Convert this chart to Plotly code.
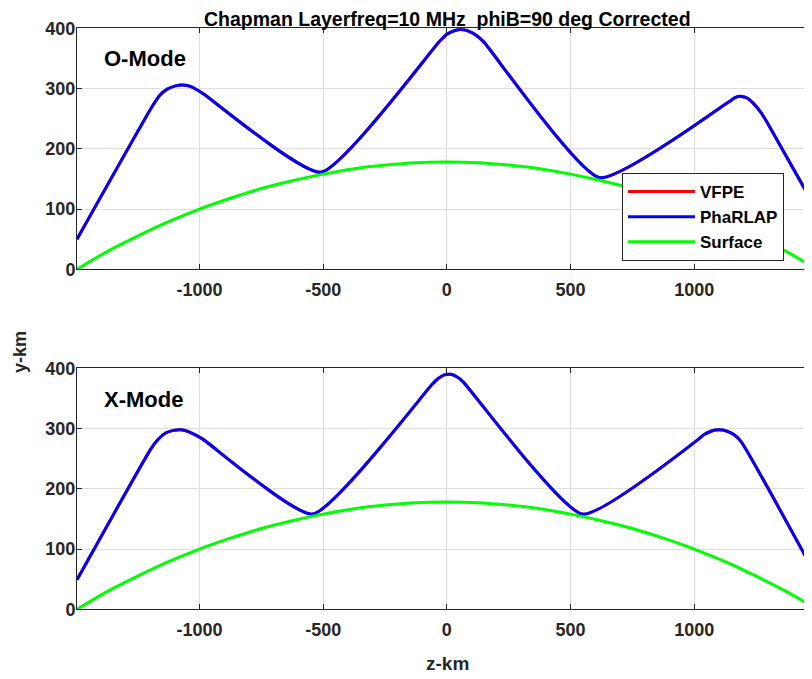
import plotly.graph_objects as go

# ---------------- data ----------------
z_surface = [-1495, -1375, -1250, -1125, -1000, -875, -750, -625, -500, -375, -250, -125, 0,
             125, 250, 375, 500, 625, 750, 875, 1000, 1125, 1250, 1375, 1495]
y_surface = [0, 29, 55, 79, 100, 118, 134, 147, 158, 167, 173, 177, 178,
             177, 173, 167, 158, 147, 134, 118, 100, 79, 55, 29, 0]

z_omode = [-1495, -1190, -1160, -1130, -1100, -1070, -1040, -1010, -980, -509,
           -30, 0, 30, 60, 90, 120, 150, 618,
           1140, 1165, 1190, 1215, 1240, 1270, 1300, 1476]
y_omode = [50, 271, 289, 299, 304, 306, 304, 298, 290, 161,
           378, 390, 396, 398, 395, 388, 377, 152,
           278, 285, 287, 284, 275, 260, 240, 112]

z_xmode = [-1495, -1195, -1165, -1135, -1105, -1075, -1045, -1015, -985, -543,
           -60, -35, -10, 15, 40, 65, 548,
           1010, 1040, 1070, 1100, 1130, 1160, 1190, 1476]
y_xmode = [49, 267, 283, 293, 297, 298, 295, 289, 282, 158,
           373, 383, 389, 390, 386, 378, 158,
           280, 290, 296, 298, 296, 290, 278, 68]

x_ticks = [-1000, -500, 0, 500, 1000]
x_tick_text = ["-1000", "-500", "0", "500", "1000"]
y_ticks = [0, 100, 200, 300, 400]
series_names = ["VFPE", "PhaRLAP", "Surface"]
series_colors = ["#ff0000", "#0000ff", "#00ff00"]
panel_labels = ["O-Mode", "X-Mode"]
title_text = "Chapman Layerfreq=10 MHz  phiB=90 deg Corrected"

# page is shown with an 8px body margin; figure sized so its right/bottom meet the window
OFF = 8
W, H = 812 - OFF, 679 - OFF
FONT = "Liberation Sans, Arial, sans-serif"

fig = go.Figure()
panels = [("x", "y", z_omode, y_omode, True), ("x2", "y2", z_xmode, y_xmode, False)]
for xa, ya, zr, yr, show in panels:
    # VFPE (hidden under PhaRLAP, identical trajectory)
    fig.add_trace(go.Scatter(x=zr, y=yr, mode="lines", name=series_names[0],
                             line=dict(color=series_colors[0], width=3, shape="spline", smoothing=0.5),
                             xaxis=xa, yaxis=ya, showlegend=show))
    fig.add_trace(go.Scatter(x=zr, y=yr, mode="lines", name=series_names[1],
                             line=dict(color=series_colors[1], width=3, shape="spline", smoothing=0.5),
                             xaxis=xa, yaxis=ya, showlegend=show))
    fig.add_trace(go.Scatter(x=z_surface, y=y_surface, mode="lines", name=series_names[2],
                             line=dict(color=series_colors[2], width=3, shape="spline"),
                             xaxis=xa, yaxis=ya, showlegend=show))

def px_x(p):
    # p: page pixel x
    return (p - OFF) / W

def px_y(p):
    # p: page pixel y
    return 1 - (p - OFF) / H

axis_common = dict(
    showgrid=True, gridcolor="#dedede", gridwidth=1,
    showline=True, linecolor="#262626", linewidth=1,
    ticks="inside", ticklen=5, tickcolor="#262626",
    zeroline=False, automargin=False,
    tickfont=dict(family=FONT, size=18, color="#262626", weight="bold"),
)

xdom = [px_x(77), 1.0]
fig.update_layout(
    width=W, height=H,
    margin=dict(l=0, r=0, t=0, b=0, autoexpand=False),
    paper_bgcolor="white", plot_bgcolor="white",
    xaxis=dict(domain=xdom, range=[-1495, 1476], tickvals=x_ticks, ticktext=x_tick_text,
               anchor="y", mirror="ticks", ticklabelstandoff=4, **axis_common),
    yaxis=dict(domain=[px_y(269.3), px_y(28.3)], range=[0, 400], tickvals=y_ticks,
               anchor="x", ticklabelstandoff=-3, **axis_common),
    xaxis2=dict(domain=xdom, range=[-1495, 1476], tickvals=x_ticks, ticktext=x_tick_text,
                anchor="y2", mirror="ticks", ticklabelstandoff=4, **axis_common),
    yaxis2=dict(domain=[px_y(609.3), px_y(368.3)], range=[0, 400], tickvals=y_ticks,
                anchor="x2", ticklabelstandoff=-3, **axis_common),
    legend=dict(x=px_x(622), y=px_y(173), xanchor="left", yanchor="top",
                bgcolor="white", bordercolor="#262626", borderwidth=1,
                font=dict(family=FONT, size=17, color="#000000", weight="bold"),
                itemwidth=67, tracegroupgap=0),
    showlegend=True,
)

annos = [
    dict(text=title_text, x=px_x(448), y=px_y(19), xref="paper", yref="paper",
         xanchor="center", yanchor="middle", showarrow=False,
         font=dict(family=FONT, size=19.5, color="#000000", weight="bold")),
    dict(text=panel_labels[0], x=px_x(102), y=px_y(58), xref="paper", yref="paper",
         xanchor="left", yanchor="middle", showarrow=False,
         font=dict(family=FONT, size=22, color="#000000", weight="bold")),
    dict(text=panel_labels[1], x=px_x(102), y=px_y(399), xref="paper", yref="paper",
         xanchor="left", yanchor="middle", showarrow=False,
         font=dict(family=FONT, size=22, color="#000000", weight="bold")),
    dict(text="y-km", x=px_x(20), y=px_y(352), xref="paper", yref="paper",
         xanchor="center", yanchor="middle", showarrow=False, textangle=-90,
         font=dict(family=FONT, size=18, color="#262626", weight="bold")),
    dict(text="z-km", x=px_x(448), y=px_y(663), xref="paper", yref="paper",
         xanchor="center", yanchor="middle", showarrow=False,
         font=dict(family=FONT, size=19, color="#262626", weight="bold")),
]
fig.update_layout(annotations=annos)

fig.write_html("out.html")
